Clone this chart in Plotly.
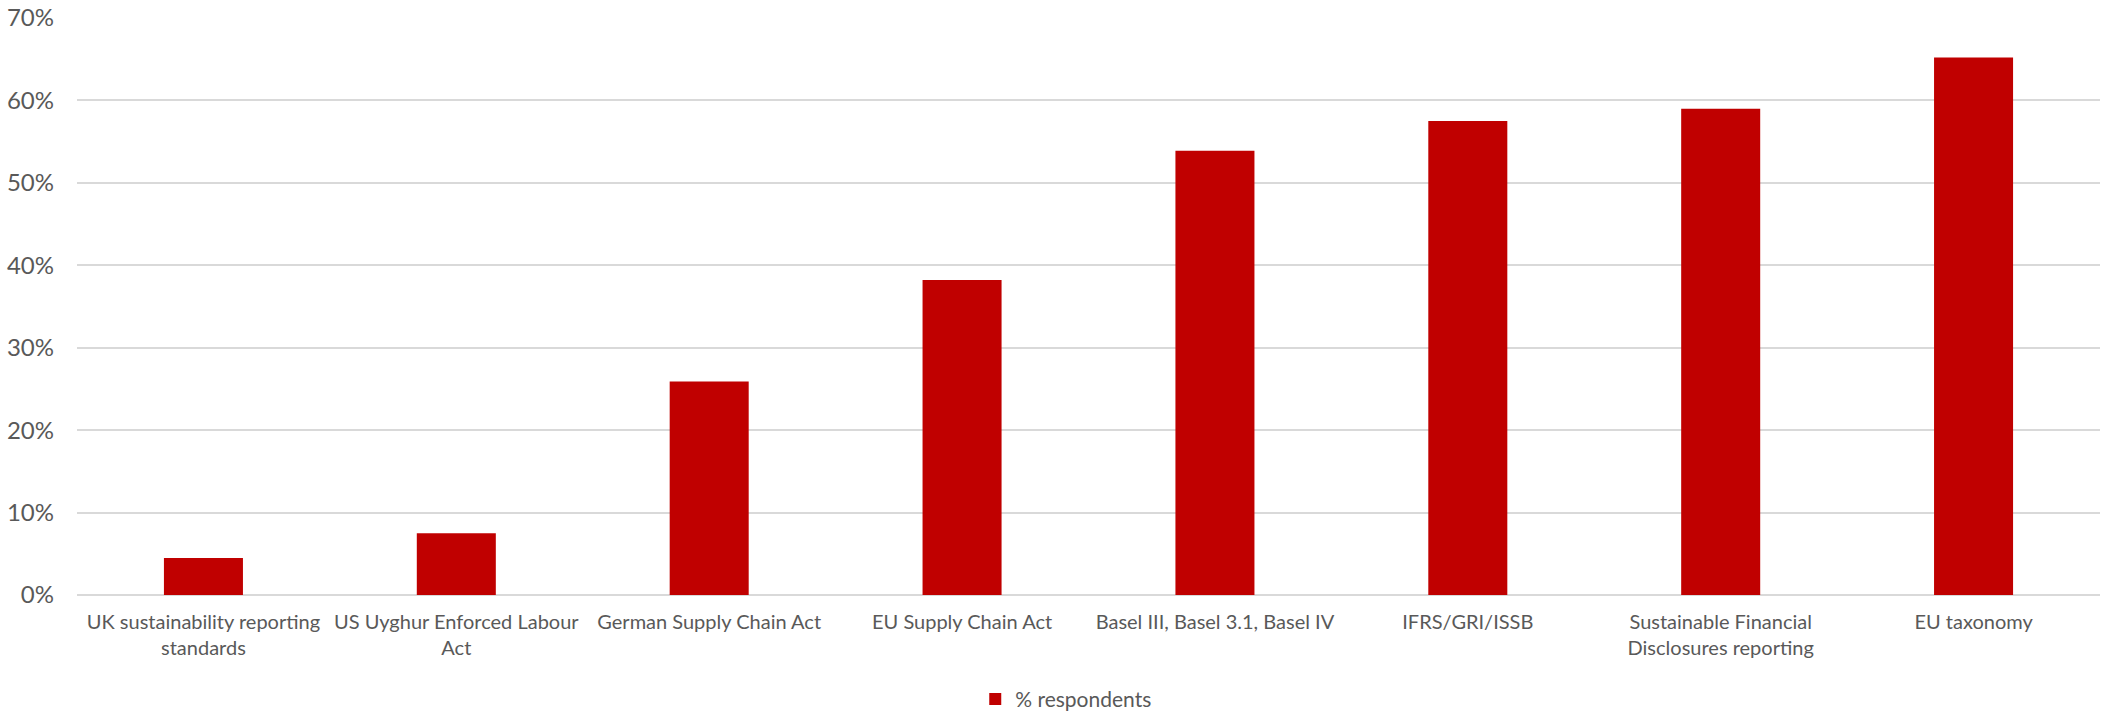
import plotly.graph_objects as go

# Regulations / reporting frameworks and share of respondents
categories = [
    "UK sustainability reporting<br>standards",
    "US Uyghur Enforced Labour<br>Act",
    "German Supply Chain Act",
    "EU Supply Chain Act",
    "Basel III, Basel 3.1, Basel IV",
    "IFRS/GRI/ISSB",
    "Sustainable Financial<br>Disclosures reporting",
    "EU taxonomy",
]
respondents = [0.045, 0.075, 0.259, 0.382, 0.539, 0.575, 0.590, 0.652]
series_name = "% respondents"

y_ticks = [0, 0.1, 0.2, 0.3, 0.4, 0.5, 0.6, 0.7]

FONT = "Lato"
TEXT_COLOR = "#595959"
GRID_COLOR = "#D9D9D9"
BAR_COLOR = "#C00000"

fig = go.Figure(
    go.Bar(
        x=categories,
        y=respondents,
        name=series_name,
        marker=dict(color=BAR_COLOR, line=dict(width=0)),
        showlegend=True,
    )
)

fig.update_layout(
    width=2102,
    height=714,
    autosize=False,
    margin=dict(l=77, r=2, t=18, b=119, autoexpand=False),
    paper_bgcolor="white",
    plot_bgcolor="white",
    bargap=0.6875,
    font=dict(family=FONT, size=20, color=TEXT_COLOR),
    showlegend=True,
    legend=dict(
        orientation="h",
        x=0.489,
        xanchor="center",
        y=-0.181,
        yanchor="middle",
        font=dict(family=FONT, size=21, color=TEXT_COLOR),
        itemwidth=30,
    ),
)

fig.update_xaxes(
    showgrid=False,
    showline=False,
    zeroline=False,
    ticks="",
    tickangle=0,
    ticklabelstandoff=13,
    tickfont=dict(family=FONT, size=20, color=TEXT_COLOR),
)

fig.update_yaxes(
    range=[0, 0.7],
    tickvals=y_ticks,
    tickformat=".0%",
    showgrid=True,
    gridcolor=GRID_COLOR,
    gridwidth=1.5,
    zeroline=True,
    zerolinecolor=GRID_COLOR,
    zerolinewidth=1.5,
    showline=False,
    ticks="",
    ticklabelstandoff=22,
    tickfont=dict(family=FONT, size=24, color=TEXT_COLOR),
)

fig.write_html("out.html")
